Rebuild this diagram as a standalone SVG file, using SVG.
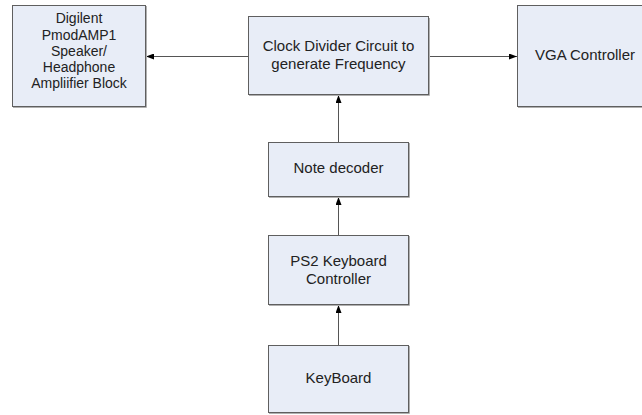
<svg xmlns="http://www.w3.org/2000/svg" width="642" height="415" viewBox="0 0 642 415">
  <style>
    .box { fill: #e8edf7; stroke: #5f5f5f; stroke-width: 1; }
    .shadow { fill: none; stroke: #b0b0b0; stroke-width: 1; }
    .lbl { font-family: "Liberation Sans", Arial, sans-serif; font-size: 15px; fill: #222; text-anchor: middle; }
    .sm { font-size: 14px; }
    .wire { stroke: #555; stroke-width: 1; fill: none; marker-end: url(#head); }
  </style>
  <defs>
    <marker id="head" viewBox="0 0 8 6" refX="8" refY="3" markerWidth="8" markerHeight="6" markerUnits="userSpaceOnUse" orient="auto">
      <path d="M0,0 L8,3 L0,6 Z" fill="#000"/>
    </marker>
  </defs>
  <rect width="642" height="415" fill="#fff"/>

  <g id="connectors">
    <line class="wire" x1="248" y1="56.5" x2="146" y2="56.5"/>
    <line class="wire" x1="428" y1="56.5" x2="517" y2="56.5"/>
    <line class="wire" x1="338.5" y1="142" x2="338.5" y2="95"/>
    <line class="wire" x1="338.5" y1="235" x2="338.5" y2="197"/>
    <line class="wire" x1="338.5" y1="345" x2="338.5" y2="305"/>
  </g>

  <g id="amp">
    <polyline class="shadow" points="146.5,6 146.5,107.5 13,107.5"/>
    <rect class="box" x="12.5" y="5.5" width="133" height="101"/>
    <text class="lbl sm" x="79" y="23">Digilent</text>
    <text class="lbl sm" x="79" y="39.5">PmodAMP1</text>
    <text class="lbl sm" x="79" y="56">Speaker/</text>
    <text class="lbl sm" x="79" y="72">Headphone</text>
    <text class="lbl sm" x="79" y="88">Ampliifier Block</text>
  </g>

  <g id="clock">
    <polyline class="shadow" points="429.5,18 429.5,95.5 249,95.5"/>
    <rect class="box" x="248.5" y="16.5" width="180" height="78"/>
    <text class="lbl" x="338.5" y="51">Clock Divider Circuit to</text>
    <text class="lbl" x="338.5" y="69">generate Frequency</text>
  </g>

  <g id="vga">
    <polyline class="shadow" points="654.5,6 654.5,107.5 518,107.5"/>
    <rect class="box" x="517.5" y="5.5" width="136" height="101"/>
    <text class="lbl" x="585" y="60">VGA Controller</text>
  </g>

  <g id="note">
    <polyline class="shadow" points="409.5,143 409.5,197.5 269,197.5"/>
    <rect class="box" x="268.5" y="142.5" width="140" height="54"/>
    <text class="lbl" x="338.5" y="173">Note decoder</text>
  </g>

  <g id="ps2">
    <polyline class="shadow" points="409.5,236 409.5,305.5 269,305.5"/>
    <rect class="box" x="268.5" y="235.5" width="140" height="69"/>
    <text class="lbl" x="338.5" y="266">PS2 Keyboard</text>
    <text class="lbl" x="338.5" y="284">Controller</text>
  </g>

  <g id="keyboard">
    <polyline class="shadow" points="409.5,346 409.5,413.5 269,413.5"/>
    <rect class="box" x="268.5" y="345.5" width="140" height="67"/>
    <text class="lbl" x="338.5" y="383">KeyBoard</text>
  </g>
</svg>
